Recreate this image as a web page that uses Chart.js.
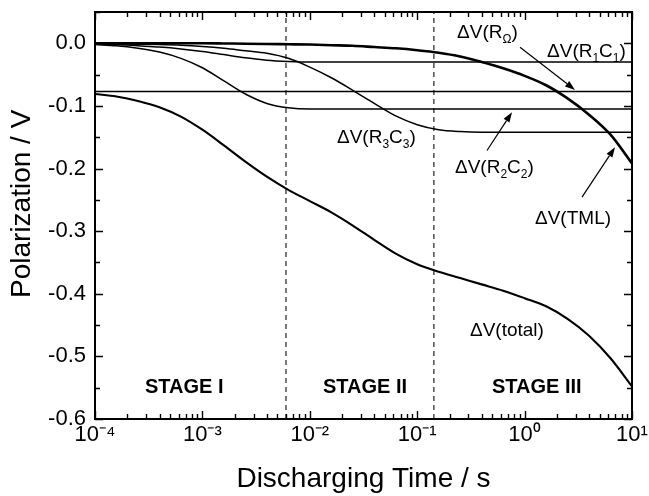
<!DOCTYPE html>
<html><head><meta charset="utf-8">
<script src="https://cdn.jsdelivr.net/npm/chart.js@4.4.1/dist/chart.umd.min.js"></script>
<style>html,body{margin:0;padding:0;background:#fff;overflow:hidden}</style>
</head><body>
<canvas id="c" width="649" height="496"></canvas>
<script>
// discharging time (s), log-spaced sample points
const times = [1e-4, 1.585e-4, 2.512e-4, 3.981e-4, 6.310e-4,
               1e-3, 1.585e-3, 2.512e-3, 3.981e-3, 6.310e-3,
               1e-2, 1.585e-2, 2.512e-2, 3.981e-2, 6.310e-2,
               1e-1, 0.1585, 0.2512, 0.3981, 0.6310,
               1, 1.585, 2.512, 3.981, 6.310, 10];
const dvROhm = [-0.077,-0.077,-0.077,-0.077,-0.077,-0.077,-0.077,-0.077,-0.077,-0.077,-0.077,-0.077,-0.077,
                -0.077,-0.077,-0.077,-0.077,-0.077,-0.077,-0.077,-0.077,-0.077,-0.077,-0.077,-0.077,-0.077];
const dvR1C1 = [-0.001,-0.002,-0.004,-0.006,-0.009,-0.013,-0.018,-0.023,-0.027,-0.029,-0.030,-0.030,-0.030,
                -0.030,-0.030,-0.030,-0.030,-0.030,-0.030,-0.030,-0.030,-0.030,-0.030,-0.030,-0.030,-0.030];
const dvR2C2 = [-0.002,-0.004,-0.008,-0.014,-0.024,-0.039,-0.060,-0.081,-0.096,-0.103,-0.105,-0.105,-0.105,
                -0.105,-0.105,-0.105,-0.105,-0.105,-0.105,-0.105,-0.105,-0.105,-0.105,-0.105,-0.105,-0.105];
const dvR3C3 = [-0.0005,-0.001,-0.0015,-0.002,-0.003,-0.005,-0.008,-0.012,-0.016,-0.024,-0.038,-0.055,-0.075,
                -0.096,-0.116,-0.130,-0.138,-0.141,-0.142,-0.142,-0.142,-0.142,-0.142,-0.142,-0.142,-0.142];
const dvTML  = [0,0,0,0,0,0,-0.0003,-0.0006,-0.001,-0.0015,-0.002,-0.003,-0.004,
                -0.006,-0.008,-0.011,-0.015,-0.021,-0.030,-0.040,-0.052,-0.067,-0.088,-0.114,-0.146,-0.192];
const dvTotal = [-0.081,-0.085,-0.092,-0.102,-0.117,-0.138,-0.163,-0.189,-0.213,-0.234,-0.252,-0.270,-0.291,
                 -0.314,-0.336,-0.353,-0.365,-0.375,-0.385,-0.395,-0.407,-0.420,-0.440,-0.467,-0.503,-0.548];
const stageBounds = [0.006, 0.143];
const yRange = [-0.6, 0.05];
const xTicks = [1e-4, 1e-3, 1e-2, 1e-1, 1, 10];
const xTickLabels = ['10\u207B\u2074','10\u207B\u00B3','10\u207B\u00B2','10\u207B\u00B9','10\u2070','10\u00B9'];
const yTicks = [-0.6, -0.5, -0.4, -0.3, -0.2, -0.1, 0.0];

// annotation labels, anchored in data coordinates
const labels = [
  {parts:[['\u0394V(R'],['\u03A9',1],[')']], t:0.2348, v:0.009},
  {parts:[['\u0394V(R'],['1',1],['C'],['1',1],[')']], t:1.617, v:-0.0212},
  {parts:[['\u0394V(R'],['3',1],['C'],['3',1],[')']], t:0.01792, v:-0.1585},
  {parts:[['\u0394V(R'],['2',1],['C'],['2',1],[')']], t:0.2249, v:-0.2079},
  {parts:[['\u0394V(TML)']], t:1.250, v:-0.2893},
  {parts:[['\u0394V(total)']], t:0.310, v:-0.468},
  {parts:[['STAGE I']], t:2.92e-4, v:-0.559, bold:1},
  {parts:[['STAGE II']], t:0.01327, v:-0.559, bold:1},
  {parts:[['STAGE III']], t:0.497, v:-0.559, bold:1}
];
const arrows = [
  {from:[0.906,-0.0064], to:[2.946,-0.0744]},
  {from:[0.4467,-0.1712], to:[0.7633,-0.1101]},
  {from:[3.423,-0.2457], to:[6.945,-0.166]}
];

const FONT = '"Liberation Sans", Arial, sans-serif';
const pts = arr => arr.map((v,i)=>({x:times[i], y:v}));
const line = (data, w) => ({data: pts(data), borderColor:'#000', borderWidth:w, pointRadius:0,
  cubicInterpolationMode:'monotone', fill:false});

const datasets = [
  line(dvROhm,1.5), line(dvR1C1,1.5), line(dvR2C2,1.5), line(dvR3C3,1.5),
  line(dvTML,2.6), line(dvTotal,2.1)
];
stageBounds.forEach(b => datasets.push({data:[{x:b,y:yRange[0]},{x:b,y:yRange[1]}], borderColor:'#222',
  borderWidth:1.2, borderDash:[5,4], pointRadius:0, fill:false}));

const decor = {
  id:'decor',
  afterDatasetsDraw(chart){
    const ctx = chart.ctx, a = chart.chartArea, xs = chart.scales.x, ys = chart.scales.y;
    ctx.save();
    ctx.strokeStyle = '#000'; ctx.fillStyle = '#000';
    // ticks (inward, all four sides)
    ctx.lineWidth = 1.4;
    ctx.beginPath();
    for (let k = -12; k <= 1; k++) {
      const y = Math.round(ys.getPixelForValue(k*0.05)) + 0.5;
      const L = (k % 2 === 0) ? 8 : 5;
      ctx.moveTo(a.left, y); ctx.lineTo(a.left + L, y);
      ctx.moveTo(a.right, y); ctx.lineTo(a.right - L, y);
    }
    for (let d = -4; d <= 1; d++) {
      for (let m = 1; m <= 9; m++) {
        if (d === 1 && m > 1) break;
        const x = Math.round(xs.getPixelForValue(m*Math.pow(10,d))) + 0.5;
        const L = m === 1 ? 8 : 5;
        ctx.moveTo(x, a.bottom); ctx.lineTo(x, a.bottom - L);
        ctx.moveTo(x, a.top); ctx.lineTo(x, a.top + L);
      }
    }
    ctx.stroke();
    // frame
    ctx.lineWidth = 2;
    ctx.strokeRect(a.left, a.top, a.right - a.left, a.bottom - a.top);
    // labels
    ctx.textBaseline = 'alphabetic'; ctx.textAlign = 'left';
    labels.forEach(l => {
      let cx = xs.getPixelForValue(l.t);
      const y = ys.getPixelForValue(l.v);
      l.parts.forEach(([txt, sub]) => {
        ctx.font = l.bold ? 'bold 20px ' + FONT : (sub ? '12px ' : '19px ') + FONT;
        ctx.fillText(txt, cx, sub ? y + 5 : y);
        cx += ctx.measureText(txt).width;
      });
    });
    // arrows
    ctx.lineWidth = 1.2;
    arrows.forEach(ar => {
      const x0 = xs.getPixelForValue(ar.from[0]), y0 = ys.getPixelForValue(ar.from[1]);
      const x1 = xs.getPixelForValue(ar.to[0]), y1 = ys.getPixelForValue(ar.to[1]);
      const ang = Math.atan2(y1 - y0, x1 - x0), H = 10, W = 3.5;
      const bx = x1 - H*Math.cos(ang), by = y1 - H*Math.sin(ang);
      ctx.beginPath(); ctx.moveTo(x0, y0); ctx.lineTo(bx, by); ctx.stroke();
      ctx.beginPath(); ctx.moveTo(x1, y1);
      ctx.lineTo(bx + W*Math.sin(ang), by - W*Math.cos(ang));
      ctx.lineTo(bx - W*Math.sin(ang), by + W*Math.cos(ang));
      ctx.closePath(); ctx.fill();
    });
    ctx.restore();
  }
};

new Chart(document.getElementById('c'), {
  type:'line',
  data:{datasets},
  options:{
    responsive:false, animation:false, devicePixelRatio:1,
    layout:{padding:{top:12, right:17, left:0, bottom:0}},
    plugins:{legend:{display:false}, tooltip:{enabled:false}},
    scales:{
      x:{type:'logarithmic', position:'bottom', min:1e-4, max:10,
        afterBuildTicks: s => { s.ticks = xTicks.map(v => ({value:v})); },
        afterFit: s => { s.height = 77; s.paddingLeft = 0; s.paddingRight = 0; },
        grid:{display:false, drawTicks:false}, border:{display:false},
        ticks:{autoSkip:false, maxRotation:0, padding:3, color:'#000', font:{family:FONT, size:22},
          callback: v => { const i = xTicks.findIndex(t => Math.abs(Math.log10(t) - Math.log10(v)) < 1e-6); return i >= 0 ? xTickLabels[i] : ''; }},
        title:{display:true, text:'Discharging Time / s', color:'#000', font:{family:FONT, size:28}, padding:{top:0, bottom:0}}
      },
      y:{type:'linear', min:yRange[0], max:yRange[1],
        afterBuildTicks: s => { s.ticks = yTicks.map(v => ({value:v})); },
        afterFit: s => { s.width = 95; s.paddingTop = 0; s.paddingBottom = 0; },
        grid:{display:false, drawTicks:false}, border:{display:false},
        ticks:{padding:9, color:'#000', font:{family:FONT, size:22},
          callback: v => Math.abs(v) < 1e-9 ? '0.0' : v.toFixed(1)},
        title:{display:true, text:'   Polarization / V', color:'#000', font:{family:FONT, size:28}, padding:{top:5, bottom:0}}
      }
    }
  },
  plugins:[decor]
});
</script>
</body></html>
